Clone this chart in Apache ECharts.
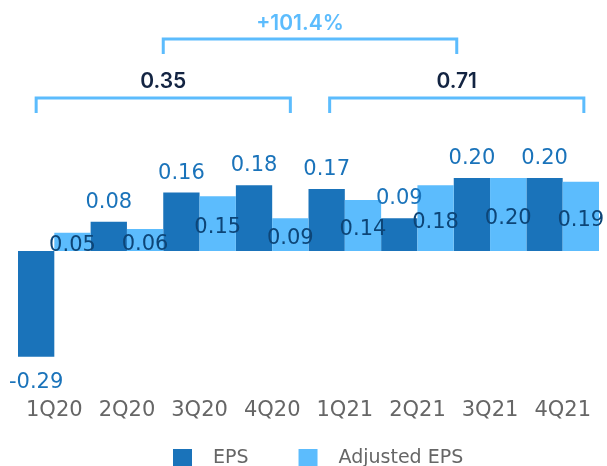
<!DOCTYPE html>
<html>
<head>
<meta charset="utf-8">
<script src="https://cdn.jsdelivr.net/npm/echarts@6/dist/echarts.min.js"></script>
<style>
  html, body { margin: 0; padding: 0; background: #fff; }
  #chart { width: 607px; height: 466px; }
</style>
</head>
<body>
<div id="chart"></div>
<script>
// data
var quarters = ['1Q20', '2Q20', '3Q20', '4Q20', '1Q21', '2Q21', '3Q21', '4Q21'];
var eps = [-0.29, 0.08, 0.16, 0.18, 0.17, 0.09, 0.20, 0.20];
var adjustedEps = [0.05, 0.06, 0.15, 0.09, 0.14, 0.18, 0.20, 0.19];
var yearTotals = ['0.35', '0.71'];
var growthText = '+101.4%';

var darkBlue = '#1a73ba';
var lightBlue = '#5cbcfd';

var myChart = echarts.init(document.getElementById('chart'));

var epsData = eps.map(function (v) {
    if (v < 0) {
        return { value: v, label: { position: 'bottom', distance: 15 } };
    }
    return v;
});

var option = {
    animation: false,
    grid: { left: 18, right: 8, top: 105, bottom: 69 },
    legend: {
        data: ['EPS', 'Adjusted EPS'],
        left: 168,
        top: 444,
        icon: 'rect',
        itemWidth: 19,
        itemHeight: 19,
        itemGap: 50,
        textStyle: {
            color: '#666',
            fontSize: 19,
            fontFamily: 'DejaVu Sans',
            padding: [0, 0, 0, 16]
        }
    },
    xAxis: {
        type: 'category',
        data: quarters,
        position: 'bottom',
        axisLine: { show: false, onZero: false },
        axisTick: { show: false },
        axisLabel: {
            color: '#666',
            fontSize: 21,
            fontFamily: 'DejaVu Sans',
            margin: 3,
            interval: 0
        }
    },
    yAxis: {
        type: 'value',
        min: -0.4,
        max: 0.4,
        show: false,
        splitLine: { show: false }
    },
    series: [
        {
            name: 'EPS',
            type: 'bar',
            data: epsData,
            barGap: '0%',
            barCategoryGap: '0%',
            itemStyle: { color: darkBlue },
            label: {
                show: true,
                position: 'top',
                distance: 9,
                color: darkBlue,
                fontSize: 21,
                fontFamily: 'DejaVu Sans',
                formatter: function (p) { return p.value.toFixed(2); }
            }
        },
        {
            name: 'Adjusted EPS',
            type: 'bar',
            data: adjustedEps,
            barGap: '0%',
            barCategoryGap: '0%',
            itemStyle: { color: lightBlue },
            label: {
                show: true,
                position: 'inside',
                offset: [0, 4],
                color: '#0d4577',
                fontSize: 21,
                fontFamily: 'DejaVu Sans',
                formatter: function (p) { return p.value.toFixed(2); }
            }
        }
    ]
};
myChart.setOption(option);

// brackets above the two years, placed from the category axis
var p0 = myChart.convertToPixel({ xAxisIndex: 0 }, 0);
var p1 = myChart.convertToPixel({ xAxisIndex: 0 }, 1);
var p3 = myChart.convertToPixel({ xAxisIndex: 0 }, 3);
var p4 = myChart.convertToPixel({ xAxisIndex: 0 }, 4);
var p7 = myChart.convertToPixel({ xAxisIndex: 0 }, 7);
var step = p1 - p0;
var half = step * 1.75;
var c1 = (p0 + p3) / 2;
var c2 = (p4 + p7) / 2 + 3;

function bracket(x1, x2, yTop, yBottom) {
    return {
        type: 'polyline',
        shape: { points: [[x1, yBottom], [x1, yTop], [x2, yTop], [x2, yBottom]] },
        style: { stroke: lightBlue, lineWidth: 3, fill: null }
    };
}
function label(x, y, text, color) {
    return {
        type: 'text',
        x: x,
        y: y,
        style: {
            text: text,
            fill: color,
            fontSize: 21,
            fontWeight: 600,
            fontFamily: 'Inter',
            align: 'center',
            verticalAlign: 'middle'
        }
    };
}

myChart.setOption({
    graphic: [
        bracket(c1 - half, c1 + half, 98, 113),
        bracket(c2 - half, c2 + half, 98, 113),
        bracket(c1, c2, 39, 54),
        label(c1, 82, yearTotals[0], '#132442'),
        label(c2, 82, yearTotals[1], '#132442'),
        label((c1 + c2) / 2 - 10, 24, growthText, lightBlue)
    ]
});
</script>
</body>
</html>
